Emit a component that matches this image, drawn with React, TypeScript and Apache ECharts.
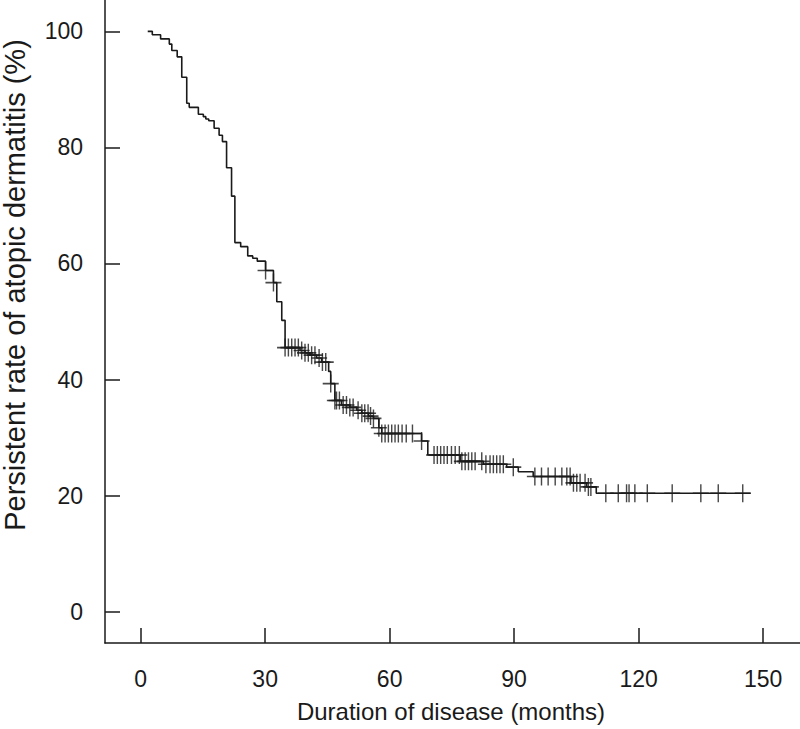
import React, { useEffect, useRef } from "react";
import * as echarts from "echarts";

// Kaplan-Meier event times (months) and persistent rate (%) after each drop
const eventTimes = [
  1.7, 2.8, 4.8, 6.9, 7.5, 8.8, 9.9, 11.1, 11.7, 13.9, 15.1, 15.7, 16.4, 17.7, 18.9, 19.7,
  20.7, 21.9, 22.7, 24.1, 25.8, 27.0, 28.1, 30.1, 32.0, 32.8, 34.0, 34.8, 38.4, 39.6, 40.8,
  42.4, 43.6, 45.3, 45.8, 46.8, 48.4, 50.4, 52.1, 53.3, 54.9, 56.1, 57.4, 58.1, 67.7, 69.2,
  77.0, 82.6, 88.2, 91.0, 94.6, 103.7, 107.5, 109.8,
];
const survival = [
  100, 99.4, 98.7, 97.8, 96.7, 95.6, 92.1, 87.6, 86.9, 85.7, 85.3, 84.9, 84.6, 83.3, 82.1, 81.0,
  76.5, 71.6, 63.6, 62.9, 61.3, 60.9, 60.4, 58.8, 56.7, 53.4, 50.2, 45.5, 45.0, 44.6, 44.2,
  43.7, 43.0, 41.4, 39.3, 36.4, 35.6, 35.2, 34.7, 34.2, 33.7, 33.3, 31.7, 30.7, 29.4, 27.0,
  25.9, 25.4, 24.9, 24.1, 23.3, 22.2, 21.5, 20.4,
];
const followUpEnd = 147.0;

// Censored observations (months)
const censorTimes = [
  30.1, 32.0, 34.8, 35.6, 36.4, 37.2, 38.0, 38.8, 39.6, 40.4, 41.2, 42.0, 43.0, 43.8, 44.6,
  45.8, 46.8, 47.2, 47.9, 48.8, 49.6, 50.4, 51.2, 52.4, 53.3, 54.0, 54.8, 55.4, 56.1, 57.4,
  58.1, 58.9, 59.7, 60.5, 61.3, 62.1, 63.0, 64.0, 65.5, 67.7, 70.7, 71.5, 72.3, 73.1, 73.9,
  74.9, 75.8, 76.8, 77.4, 78.2, 79.0, 79.8, 80.6, 82.2, 83.2, 84.2, 85.0, 85.8, 86.6, 87.4,
  89.8, 95.0, 96.6, 98.2, 99.9, 101.5, 102.7, 103.5, 104.3, 105.1, 105.9, 107.1, 107.9,
  108.5, 112.1, 115.1, 117.1, 117.7, 119.1, 122.1, 128.1, 135.0, 139.2, 145.1,
];

const xTicks = [0, 30, 60, 90, 120, 150];
const yTicks = [0, 20, 40, 60, 80, 100];
const xTitle = "Duration of disease (months)";
const yTitle = "Persistent rate of atopic dermatitis (%)";

function survAt(t: number): number {
  let s = survival[0];
  for (let i = 0; i < eventTimes.length; i++) {
    if (eventTimes[i] <= t + 1e-9) s = survival[i];
  }
  return s;
}

const FONT = "'Liberation Sans', Arial, Helvetica, sans-serif";
const INK = "#1a1a1a";

export default function App() {
  const ref = useRef<HTMLDivElement>(null);
  useEffect(() => {
    if (!ref.current) return;
    const chart = echarts.init(ref.current, undefined, { renderer: "svg" });
    const lineData = eventTimes.map((t, i) => [t, survival[i]]);
    lineData.push([followUpEnd, survival[survival.length - 1]]);
    const censorData = censorTimes.map((t) => [t, survAt(t)]);
    chart.setOption({
      animation: false,
      backgroundColor: "#ffffff",
      grid: { left: 105, top: 0, right: 0, bottom: 86, containLabel: false },
      xAxis: {
        type: "value",
        min: -8.6,
        max: 158.9,
        axisLine: { show: true, onZero: false, lineStyle: { color: INK, width: 1.5 } },
        axisTick: { show: true, inside: true, length: 15, customValues: xTicks, lineStyle: { color: INK, width: 1.5 } },
        axisLabel: { show: true, customValues: xTicks, margin: 24, fontSize: 23, fontFamily: FONT, color: INK },
        splitLine: { show: false },
      },
      yAxis: {
        type: "value",
        min: -5.4,
        max: 105.4,
        axisLine: { show: true, onZero: false, lineStyle: { color: INK, width: 1.5 } },
        axisTick: { show: true, inside: true, length: 15, customValues: yTicks, lineStyle: { color: INK, width: 1.5 } },
        axisLabel: { show: true, customValues: yTicks, margin: 22, fontSize: 23, fontFamily: FONT, color: INK },
        splitLine: { show: false },
      },
      graphic: [
        {
          type: "text",
          x: 451,
          y: 711,
          style: { text: xTitle, font: `24px ${FONT}`, fill: INK, textAlign: "center", textVerticalAlign: "middle" },
        },
        {
          type: "text",
          x: 15,
          y: 285,
          rotation: Math.PI / 2,
          style: { text: yTitle, font: `29px ${FONT}`, fill: INK, textAlign: "center", textVerticalAlign: "middle" },
        },
      ],
      series: [
        {
          type: "line",
          step: "end",
          data: lineData,
          showSymbol: false,
          silent: true,
          lineStyle: { color: INK, width: 1.6 },
          emphasis: { disabled: true },
        },
        {
          type: "scatter",
          data: censorData,
          symbol: "path://M8,0L8,18M0,9L16,9",
          symbolSize: [16, 18],
          silent: true,
          itemStyle: { color: "none", borderColor: INK, borderWidth: 1.5 },
          emphasis: { disabled: true },
        },
      ],
    });
    return () => chart.dispose();
  }, []);
  return (
    <div
      ref={ref}
      style={{ position: "fixed", left: 0, top: 0, width: 800, height: 729, background: "#fff" }}
    />
  );
}
